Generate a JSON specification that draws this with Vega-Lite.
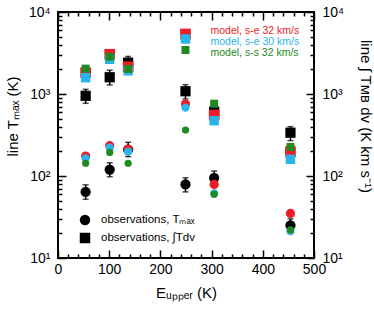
{
  "$schema": "https://vega.github.io/schema/vega-lite/v6.json",
  "width": 256,
  "height": 246,
  "autosize": {"type": "none"},
  "padding": {"left": 58, "top": 12, "right": 60, "bottom": 51},
  "background": "white",
  "config": {
    "view": {"stroke": "black", "strokeWidth": 2},
    "font": "Liberation Sans",
    "axis": {
      "domain": false,
      "grid": false,
      "ticks": true,
      "tickOpacity": 1,
      "zindex": 2,
      "tickColor": "black",
      "tickWidth": 1.5,
      "labelColor": "black",
      "titleColor": "black",
      "labelFont": "Liberation Sans",
      "titleFont": "Liberation Sans",
      "labelFontSize": 14,
      "titleFontSize": 15,
      "titleFontWeight": "normal",
      "labelFlush": false,
      "labelOverlap": false
    },
    "legend": {"labelFont": "Liberation Sans"}
  },
  "datasets": {
    "obs": [
      {"E": 54, "quantity": "observations, Tₘₐₓ", "value": 64, "lo": 52, "hi": 78},
      {"E": 101, "quantity": "observations, Tₘₐₓ", "value": 120, "lo": 98, "hi": 145},
      {"E": 137, "quantity": "observations, Tₘₐₓ", "value": 210, "lo": 172, "hi": 258},
      {"E": 249, "quantity": "observations, Tₘₐₓ", "value": 79, "lo": 64, "hi": 95},
      {"E": 305, "quantity": "observations, Tₘₐₓ", "value": 95, "lo": 78, "hi": 115},
      {"E": 454, "quantity": "observations, Tₘₐₓ", "value": 25, "lo": 20, "hi": 30},
      {"E": 54, "quantity": "observations, ∫Tdv", "value": 950, "lo": 770, "hi": 1140},
      {"E": 101, "quantity": "observations, ∫Tdv", "value": 1600, "lo": 1290, "hi": 1950},
      {"E": 137, "quantity": "observations, ∫Tdv", "value": 2410, "lo": 1950, "hi": 2870},
      {"E": 249, "quantity": "observations, ∫Tdv", "value": 1080, "lo": 870, "hi": 1300},
      {"E": 305, "quantity": "observations, ∫Tdv", "value": 610, "lo": 490, "hi": 730},
      {"E": 454, "quantity": "observations, ∫Tdv", "value": 337, "lo": 270, "hi": 400}
    ],
    "model": [
      {"E": 54, "model": "model, s-e 32 km/s", "Tmax": 175, "Int": 1820},
      {"E": 101, "model": "model, s-e 32 km/s", "Tmax": 234, "Int": 3050},
      {"E": 137, "model": "model, s-e 32 km/s", "Tmax": 213, "Int": 2150},
      {"E": 249, "model": "model, s-e 32 km/s", "Tmax": 755, "Int": 5390},
      {"E": 305, "model": "model, s-e 32 km/s", "Tmax": 79, "Int": 555},
      {"E": 454, "model": "model, s-e 32 km/s", "Tmax": 35, "Int": 198},
      {"E": 54, "model": "model, s-e 30 km/s", "Tmax": 164, "Int": 1580},
      {"E": 101, "model": "model, s-e 30 km/s", "Tmax": 221, "Int": 2650},
      {"E": 137, "model": "model, s-e 30 km/s", "Tmax": 198, "Int": 1920},
      {"E": 249, "model": "model, s-e 30 km/s", "Tmax": 681, "Int": 4690},
      {"E": 305, "model": "model, s-e 30 km/s", "Tmax": 61.5, "Int": 472},
      {"E": 454, "model": "model, s-e 30 km/s", "Tmax": 21.3, "Int": 160},
      {"E": 54, "model": "model, s-s 32 km/s", "Tmax": 143, "Int": 2040},
      {"E": 101, "model": "model, s-s 32 km/s", "Tmax": 194, "Int": 2850},
      {"E": 137, "model": "model, s-s 32 km/s", "Tmax": 143, "Int": 2020},
      {"E": 249, "model": "model, s-s 32 km/s", "Tmax": 364, "Int": 3440},
      {"E": 305, "model": "model, s-s 32 km/s", "Tmax": 60, "Int": 762},
      {"E": 454, "model": "model, s-s 32 km/s", "Tmax": 22, "Int": 226}
    ]
  },
  "layer": [
    {
      "data": {"name": "obs"},
      "mark": {"type": "errorbar", "ticks": {"size": 6}, "thickness": 1.5, "color": "black"},
      "encoding": {
        "x": {"field": "E", "type": "quantitative", "scale": {"domain": [0, 500], "nice": false},
          "axis": {"orient": "bottom", "values": [0, 100, 200, 300, 400, 500], "format": "d", "ticks": true, "tickSize": -8, "labelPadding": 12, "title": "Eᵤₚₚₑᵣ (K)", "titlePadding": 9}},
        "y": {"field": "lo", "type": "quantitative", "scale": {"type": "log", "domain": [10, 10000], "nice": false},
          "axis": {"orient": "left", "values": [10, 100, 1000, 10000], "ticks": true, "tickSize": -8, "labelPadding": 16,
            "labelExpr": "datum.value == 10 ? '10¹' : datum.value == 100 ? '10²' : datum.value == 1000 ? '10³' : '10⁴'",
            "title": "line Tₘₐₓ (K)", "titlePadding": 8, "titleY": 104}},
        "y2": {"field": "hi"}
      }
    },
    {
      "data": {"name": "obs"},
      "mark": {"type": "point", "filled": true, "opacity": 1, "color": "black", "size": 105},
      "encoding": {
        "x": {"field": "E", "type": "quantitative", "scale": {"domain": [0, 500], "nice": false},
          "axis": {"orient": "bottom", "values": [20, 40, 60, 80, 120, 140, 160, 180, 220, 240, 260, 280, 320, 340, 360, 380, 420, 440, 460, 480], "ticks": true, "tickSize": -4, "labels": false, "title": null}},
        "y": {"field": "value", "type": "quantitative", "scale": {"type": "log", "domain": [10, 10000], "nice": false},
          "axis": {"orient": "left", "values": [20, 30, 40, 50, 60, 70, 80, 90, 200, 300, 400, 500, 600, 700, 800, 900, 2000, 3000, 4000, 5000, 6000, 7000, 8000, 9000], "ticks": true, "tickSize": -4, "labels": false, "title": null}},
        "shape": {"field": "quantity", "type": "nominal",
          "scale": {"domain": ["observations, Tₘₐₓ", "observations, ∫Tdv"], "range": ["circle", "square"]},
          "legend": {"title": null, "orient": "none", "legendX": 21, "legendY": 202, "symbolSize": 110, "symbolFillColor": "black", "symbolStrokeColor": "black", "labelFontSize": 11.5, "labelOffset": 10, "rowPadding": 0, "padding": 0, "labelColor": "black"}}
      }
    },
    {
      "data": {"name": "model"},
      "mark": {"type": "point", "filled": true, "opacity": 1, "shape": "circle"},
      "encoding": {
        "x": {"field": "E", "type": "quantitative", "scale": {"domain": [0, 500], "nice": false},
          "axis": {"orient": "top", "values": [0, 100, 200, 300, 400, 500], "ticks": true, "tickSize": -8, "labels": false, "title": null}},
        "y": {"field": "Tmax", "type": "quantitative", "scale": {"type": "log", "domain": [10, 10000], "nice": false},
          "axis": {"orient": "right", "values": [10, 100, 1000, 10000], "ticks": true, "tickSize": -8, "labelPadding": 16,
            "labelExpr": "datum.value == 10 ? '10¹' : datum.value == 100 ? '10²' : datum.value == 1000 ? '10³' : '10⁴'",
            "title": "line ∫ Tᴍʙ dv (K km s⁻¹)", "titleAngle": 90, "titlePadding": 14, "titleY": 104}},
        "color": {"field": "model", "type": "nominal",
          "scale": {"domain": ["model, s-e 32 km/s", "model, s-e 30 km/s", "model, s-s 32 km/s"], "range": ["#ee1c25", "#29b5ec", "#1f8a24"]},
          "legend": {"title": null, "orient": "top-right", "offset": 14, "symbolSize": 0, "symbolOpacity": 0, "symbolStrokeWidth": 0, "labelOffset": 0, "labelFontSize": 10.5, "rowPadding": 0, "padding": 0,
            "labelColor": {"expr": "datum.label == 'model, s-e 32 km/s' ? '#ee1c25' : datum.label == 'model, s-e 30 km/s' ? '#29b5ec' : '#1f8a24'"}}},
        "size": {"field": "model", "type": "nominal",
          "scale": {"domain": ["model, s-e 32 km/s", "model, s-e 30 km/s", "model, s-s 32 km/s"], "range": [85, 52, 17]},
          "legend": null}
      }
    },
    {
      "data": {"name": "model"},
      "mark": {"type": "point", "filled": true, "opacity": 1, "shape": "square"},
      "encoding": {
        "x": {"field": "E", "type": "quantitative", "scale": {"domain": [0, 500], "nice": false},
          "axis": {"orient": "top", "values": [20, 40, 60, 80, 120, 140, 160, 180, 220, 240, 260, 280, 320, 340, 360, 380, 420, 440, 460, 480], "ticks": true, "tickSize": -4, "labels": false, "title": null}},
        "y": {"field": "Int", "type": "quantitative", "scale": {"type": "log", "domain": [10, 10000], "nice": false},
          "axis": {"orient": "right", "values": [20, 30, 40, 50, 60, 70, 80, 90, 200, 300, 400, 500, 600, 700, 800, 900, 2000, 3000, 4000, 5000, 6000, 7000, 8000, 9000], "ticks": true, "tickSize": -4, "labels": false, "title": null}},
        "color": {"field": "model", "type": "nominal",
          "scale": {"domain": ["model, s-e 32 km/s", "model, s-e 30 km/s", "model, s-s 32 km/s"], "range": ["#ee1c25", "#29b5ec", "#1f8a24"]},
          "legend": {"title": null, "orient": "top-right", "offset": 14, "symbolSize": 0, "symbolOpacity": 0, "symbolStrokeWidth": 0, "labelOffset": 0, "labelFontSize": 10.5, "rowPadding": 0, "padding": 0,
            "labelColor": {"expr": "datum.label == 'model, s-e 32 km/s' ? '#ee1c25' : datum.label == 'model, s-e 30 km/s' ? '#29b5ec' : '#1f8a24'"}}},
        "size": {"field": "model", "type": "nominal",
          "scale": {"domain": ["model, s-e 32 km/s", "model, s-e 30 km/s", "model, s-s 32 km/s"], "range": [115, 64, 22]},
          "legend": null}
      }
    }
  ],
  "resolve": {"axis": {"x": "independent", "y": "independent"}, "scale": {"size": "independent"}}
}
